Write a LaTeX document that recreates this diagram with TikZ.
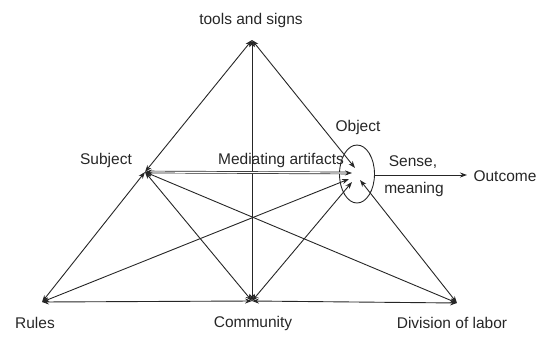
\documentclass[tikz,border=0pt]{standalone}
\usepackage{fontspec}
\setmainfont{Liberation Sans}
\usetikzlibrary{arrows.meta,shapes.geometric}
\begin{document}
\begin{tikzpicture}[x=1pt,y=-1pt,
  lbl/.style={inner sep=0pt,font=\fontsize{15.5}{18}\selectfont,text=black!85},
  conn/.style={draw=black!85,line width=0.9pt,{Stealth[length=7pt,width=5pt]}-{Stealth[length=7pt,width=5pt]}},
  oneway/.style={draw=black!85,line width=0.9pt,-{Stealth[length=7pt,width=5pt]}}]
\useasboundingbox (0,0) rectangle (544,338);
% anchor points
\coordinate (T) at (252,40);
\coordinate (S) at (145,172);
\coordinate (R) at (42,302);
\coordinate (C) at (252,301);
\coordinate (D) at (457,303);
\coordinate (Ot) at (355,168);
\coordinate (Om) at (352,173);
\coordinate (Or) at (349,179);
\coordinate (Oc) at (352,182);
\coordinate (Od) at (360,180);
\coordinate (Oout) at (375,175);
\coordinate (Out) at (467,175);
% labels
\node[lbl] (tl) at (251,20) {tools and signs};
\node[lbl] (sl) at (106,160) {Subject};
\node[lbl] (ml) at (281,160) {Mediating artifacts};
\node[lbl] (ol) at (358,127) {Object};
\node[lbl] (se) at (413,162) {Sense,};
\node[lbl] (me) at (414,189) {meaning};
\node[lbl] (oc) at (505,176) {Outcome};
\node[lbl] (rl) at (35,323) {Rules};
\node[lbl] (cl) at (253,323) {Community};
\node[lbl] (dl) at (452,323) {Division of labor};
% object ellipse
\node[draw=black!85,line width=0.9pt,ellipse,minimum width=35pt,minimum height=58pt,inner sep=0pt] (obj) at (357,174) {};
% connectors
\draw[conn] (T) -- (S);
\draw[conn] (T) -- (Ot);
\draw[conn] (T) -- (C);
\draw[conn,double,double distance=1.2pt,line width=0.7pt] (S) -- (Om);
\draw[conn] (S) -- (R);
\draw[conn] (S) -- (C);
\draw[conn] (S) -- (D);
\draw[conn] (R) -- (Or);
\draw[conn] (C) -- (Oc);
\draw[conn] (D) -- (Od);
\draw[conn] (R) -- (C);
\draw[conn] (C) -- (D);
\draw[oneway] (Oout) -- (Out);
\end{tikzpicture}
\end{document}
